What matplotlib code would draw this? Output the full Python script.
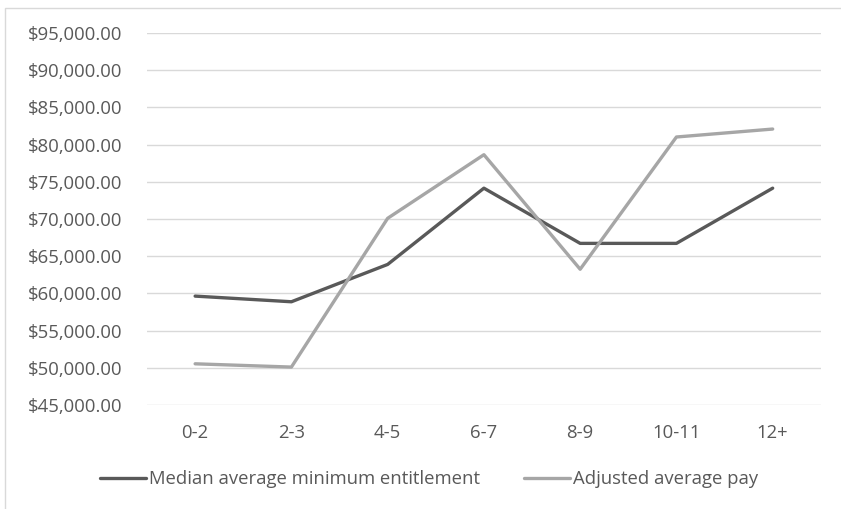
import matplotlib.pyplot as plt
from matplotlib.patches import Rectangle
from matplotlib.ticker import FuncFormatter

# values
categories = ['0-2', '2-3', '4-5', '6-7', '8-9', '10-11', '12+']
median_entitlement = [59640, 58880, 63900, 74150, 66730, 66730, 74150]
adjusted_pay = [50540, 50100, 70100, 78650, 63250, 81030, 82100]

plt.rcParams['font.family'] = ['Open Sans', 'DejaVu Sans']

fig = plt.figure(figsize=(8.41, 5.09), dpi=100)
ax = fig.add_axes([0.1748, 0.2043, 0.8012, 0.7307])

x = range(len(categories))
ax.plot(x, median_entitlement, color='#595959', lw=2.4, solid_capstyle='round',
        label='Median average minimum entitlement', zorder=3)
ax.plot(x, adjusted_pay, color='#a6a6a6', lw=2.4, solid_capstyle='round',
        label='Adjusted average pay', zorder=3)

ax.set_xlim(-0.5, len(categories) - 0.5)
ax.set_ylim(45000, 95000)
ax.set_yticks(range(45000, 95001, 5000))
ax.yaxis.set_major_formatter(FuncFormatter(lambda v, p: '${:,.2f}'.format(v)))
ax.set_xticks(list(x))
ax.set_xticklabels(categories)

ax.grid(axis='y', color='#d9d9d9', lw=1)
ax.set_axisbelow(True)
for s in ax.spines.values():
    s.set_visible(False)
ax.tick_params(length=0, colors='#595959', labelsize=13.3)
ax.tick_params(axis='y', pad=18)
ax.tick_params(axis='x', pad=14)

fig.legend(loc='center', bbox_to_anchor=(0.51, 0.058), ncol=2, frameon=False,
           fontsize=13.3, labelcolor='#595959', handlelength=2.5,
           handletextpad=0.15, columnspacing=2.4)

# light outer chart border
fig.patches.append(Rectangle((5 / 841, -0.1), 1.2, 1 - 8 / 509 + 0.1,
                             transform=fig.transFigure, fill=False,
                             edgecolor='#d9d9d9', lw=1))

fig.savefig('out.png', dpi=100)
